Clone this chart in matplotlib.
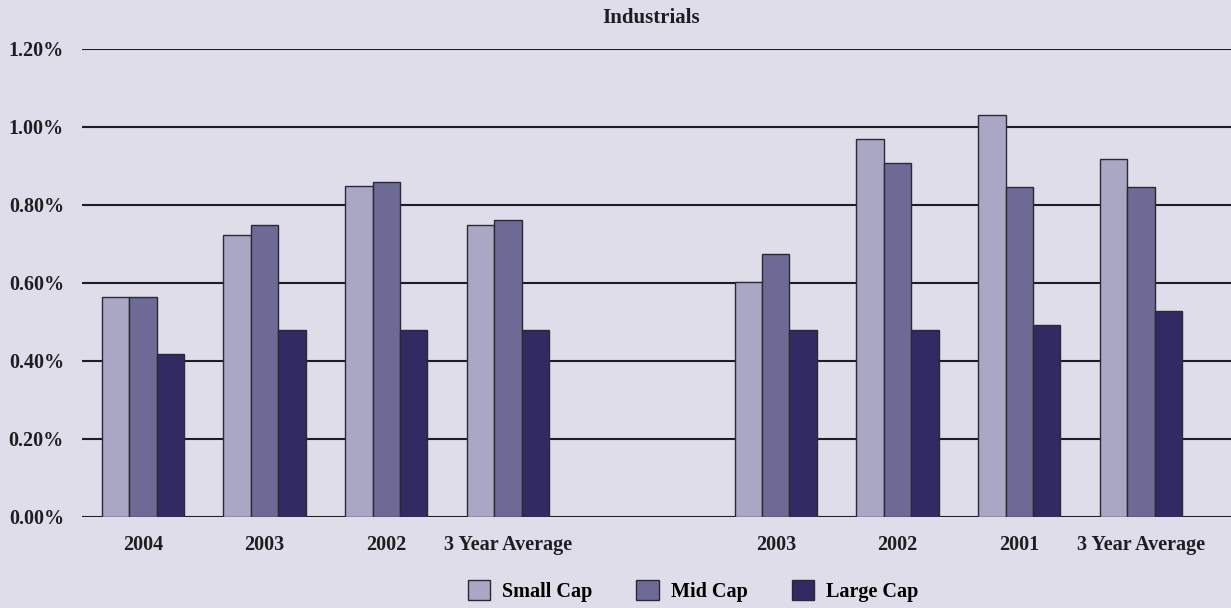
import matplotlib.pyplot as plt
from matplotlib.patches import Patch
import numpy as np

# category groups (two sets of years, with a blank gap between them)
categories = ["2004", "2003", "2002", "3 Year Average",
              "2003", "2002", "2001", "3 Year Average"]
positions = [0, 1, 2, 3, 5.2, 6.2, 7.2, 8.2]

small_cap = [0.565, 0.723, 0.849, 0.749, 0.603, 0.969, 1.030, 0.919]
mid_cap = [0.565, 0.749, 0.859, 0.762, 0.674, 0.908, 0.846, 0.846]
large_cap = [0.418, 0.479, 0.479, 0.479, 0.479, 0.479, 0.492, 0.528]

series_names = ["Small Cap", "Mid Cap", "Large Cap"]
colors = ["#a9a7c4", "#6e6a96", "#322a62"]

bg = "#dfdde9"
plt.rcParams['font.family'] = ['Liberation Serif', 'DejaVu Serif']
plt.rcParams['font.weight'] = 'bold'

fig = plt.figure(figsize=(12.31, 6.08), dpi=100, facecolor=bg)
ax = fig.add_axes([82 / 1231, 1 - 517 / 608, 1 - 82 / 1231, (517 - 49) / 608])
ax.set_facecolor(bg)

x = np.array(positions)
w = 0.225
for i, vals in enumerate([small_cap, mid_cap, large_cap]):
    ax.bar(x + (i - 1) * w, vals, width=w, color=colors[i],
           edgecolor="#2a2a33", linewidth=1.0, zorder=3)

ax.set_xlim(-0.5, 8.94)
ax.set_ylim(0, 1.2)
ax.set_yticks(np.arange(0, 1.21, 0.2))
ax.set_yticklabels(["%.2f%%" % v for v in np.arange(0, 1.21, 0.2)])
ax.yaxis.grid(True, color="#1e1e22", linewidth=1.5, zorder=1)
ax.set_axisbelow(True)
ax.set_xticks(positions)
ax.set_xticklabels(categories)

for s in ax.spines.values():
    s.set_visible(False)
ax.tick_params(axis="both", length=0, labelsize=14.5, colors="#1e1e22")
ax.tick_params(axis="y", pad=13)
ax.tick_params(axis="x", pad=13)

fig.text(651 / 1231, 1 - 18 / 608, "Industrials", ha="center", va="center",
         fontsize=15, fontweight="bold", color="#1e1e22")

handles = [Patch(facecolor=c, edgecolor="#2a2a33", label=n)
           for c, n in zip(colors, series_names)]
fig.legend(handles=handles, loc="center", bbox_to_anchor=(693 / 1231, 1 - 591 / 608),
           ncol=3, frameon=False, fontsize=14.5, handlelength=1.1, handleheight=1.1,
           columnspacing=2.2, handletextpad=0.6, borderpad=0)

fig.savefig("out.png", dpi=100, facecolor=bg)
